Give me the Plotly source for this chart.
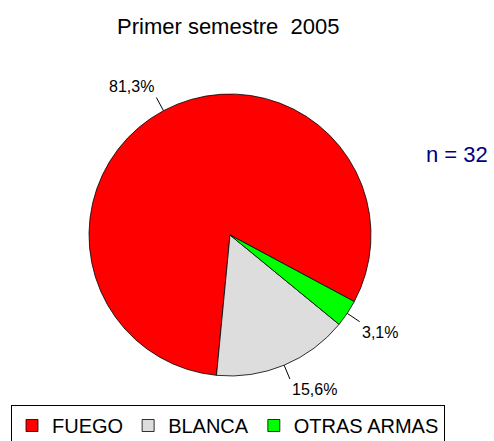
import math
import plotly.graph_objects as go

# ---- data ----
categories = ["FUEGO", "BLANCA", "OTRAS ARMAS"]
values = [81.3, 15.6, 3.1]
label_texts = ["81,3%", "15,6%", "3,1%"]
colors = ["#FF0000", "#DDDDDD", "#00FF00"]
title_text = "Primer semestre\u00a0 2005"
n_text = "n = 32"

W, H = 494, 441
FONT = "Arial, Liberation Sans, sans-serif"

# pie geometry (pixels)
cx, cy, R = 230, 235, 141
# boundary (clockwise from 12 o'clock) between first slice and the next one (ccw)
rotation = 185.5

def px2paper(x, y):
    return x / W, 1 - y / H

fig = go.Figure()
d0 = px2paper(cx - R, cy - R)
d1 = px2paper(cx + R, cy + R)
fig.add_trace(go.Pie(
    labels=categories, values=values, sort=False,
    direction="counterclockwise", rotation=rotation,
    marker=dict(colors=colors, line=dict(color="black", width=0.8)),
    textinfo="none", hoverinfo="label+percent",
    domain=dict(x=[d0[0], d1[0]], y=[d1[1], d0[1]]),
))

shapes = []
annotations = []
total = sum(values)
# first slice spans clockwise from `rotation` by its share; start of its ccw sweep:
start_math = 90 - (rotation + values[0] / total * 360)
acc = 0.0
for v, t in zip(values, label_texts):
    mid = start_math + (acc + v / 2) / total * 360
    acc += v
    a = math.radians(mid)
    dx, dy = math.cos(a), -math.sin(a)  # screen coords
    x1, y1 = cx + dx * R, cy + dy * R
    x2, y2 = cx + dx * (R + 15), cy + dy * (R + 15)
    p1, p2 = px2paper(x1, y1), px2paper(x2, y2)
    shapes.append(dict(type="line", xref="paper", yref="paper",
                       x0=p1[0], y0=p1[1], x1=p2[0], y1=p2[1],
                       line=dict(color="black", width=1)))
    xa = "right" if dx < -0.3 else ("left" if dx > 0.3 else "center")
    ya = "bottom" if dy < 0 else "top"
    annotations.append(dict(text=t, x=p2[0], y=p2[1], xref="paper", yref="paper",
                            xanchor=xa, yanchor=ya, showarrow=False,
                            font=dict(family=FONT, size=16, color="black")))

annotations.append(dict(text=title_text, x=228 / W, y=1 - 26 / H, xref="paper", yref="paper",
                        xanchor="center", yanchor="middle", showarrow=False,
                        font=dict(family=FONT, size=22, color="black")))
annotations.append(dict(text=n_text, x=457 / W, y=1 - 154 / H, xref="paper", yref="paper",
                        xanchor="center", yanchor="middle", showarrow=False,
                        font=dict(family=FONT, size=22, color="#000080")))

fig.update_layout(
    width=W, height=H,
    margin=dict(l=0, r=0, t=0, b=0, autoexpand=False),
    paper_bgcolor="white", plot_bgcolor="white",
    showlegend=True,
    legend=dict(orientation="h", x=11 / W, y=1 - 405 / H, xanchor="left", yanchor="top",
                bordercolor="black", borderwidth=1, bgcolor="white",
                font=dict(family=FONT, size=20, color="black"),
                itemwidth=30, tracegroupgap=0),
    shapes=shapes, annotations=annotations,
)

fig.write_html("out.html", config={"displayModeBar": False},
               post_script="document.body.style.margin='0';")
